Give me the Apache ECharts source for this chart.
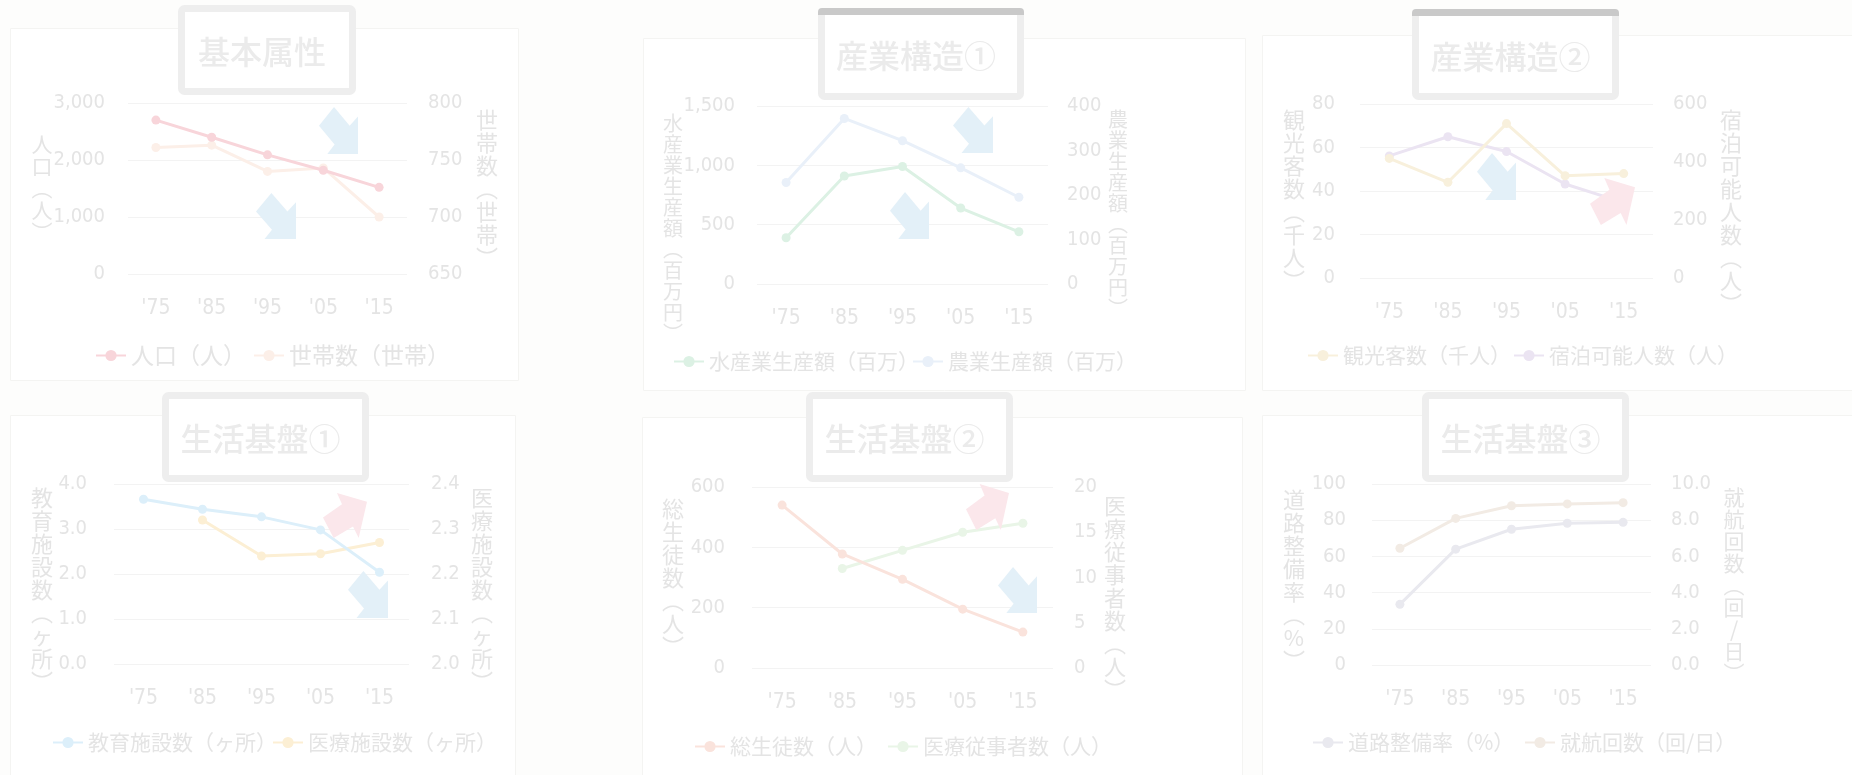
<!DOCTYPE html>
<html><head><meta charset="utf-8">
<script src="https://cdn.jsdelivr.net/npm/echarts@6/dist/echarts.min.js"></script>
<style>html,body{margin:0;padding:0;background:#fdfdfc;}#c{width:1852px;height:775px;}</style>
</head><body><div id="c"></div>
<script>
// ---------- data ----------
const categories = ["'75", "'85", "'95", "'05", "'15"];
const population = [2700, 2400, 2090, 1820, 1520];        // 人口（人）
const households = [761, 763, 740, 743, 700];              // 世帯数（世帯）
const fisheryOutput = [390, 910, 990, 640, 440];           // 水産業生産額（百万）
const agricultureOutput = [228, 372, 322, 261, 195];       // 農業生産額（百万）
const tourists = [55, 44, 71, 47, 48];                     // 観光客数（千人）
const lodgingCapacity = [421, 487, 436, 324, 260];         // 宿泊可能人数（人）
const schools = [3.66, 3.44, 3.27, 2.98, 2.04];            // 教育施設数（ヶ所）
const clinics = [null, 2.32, 2.24, 2.245, 2.27];           // 医療施設数（ヶ所）
const students = [540, 378, 294, 195, 119];                // 総生徒数（人）
const medicalStaff = [null, 11, 13, 15, 16];               // 医療従事者数（人）
const roadRate = [33.5, 64, 75, 78.3, 78.8];               // 道路整備率（%）
const ferryTrips = [6.45, 8.1, 8.8, 8.9, 8.97];            // 就航回数（回/日）

const panelTitles = ['基本属性', '産業構造①', '産業構造②', '生活基盤①', '生活基盤②', '生活基盤③'];
const leftNames = ['人口（人）', '水産業生産額（百万円）', '観光客数（千人）', '教育施設数（ヶ所）', '総生徒数（人）', '道路整備率（%）'];
const rightNames = ['世帯数（世帯）', '農業生産額（百万円）', '宿泊可能人数（人）', '医療施設数（ヶ所）', '医療従事者数（人）', '就航回数（回/日）'];
const seriesNamesL = ['人口（人）', '水産業生産額（百万）', '観光客数（千人）', '教育施設数（ヶ所）', '総生徒数（人）', '道路整備率（%）'];
const seriesNamesR = ['世帯数（世帯）', '農業生産額（百万）', '宿泊可能人数（人）', '医療施設数（ヶ所）', '医療従事者数（人）', '就航回数（回/日）'];
const seriesDataL = [population, fisheryOutput, tourists, schools, students, roadRate];
const seriesDataR = [households, agricultureOutput, lodgingCapacity, clinics, medicalStaff, ferryTrips];
const leftAxisRanges = [[0, 3000, 1000, 0], [0, 1500, 500, 0], [0, 80, 20, 0], [0, 4, 1, 1], [0, 600, 200, 0], [0, 100, 20, 0]];
const rightAxisRanges = [[650, 800, 50, 0], [0, 400, 100, 0], [0, 600, 200, 0], [2.0, 2.4, 0.1, 1], [0, 20, 5, 0], [0, 10, 2, 1]];

// ---------- layout & style ----------
const colorsL = ['#f8d5da', '#dcf1e4', '#f8f0dc', '#dceffa', '#fae3dc', '#e9e9ef'];
const colorsR = ['#fcefe8', '#e9f0f9', '#ebe4f2', '#fcefd4', '#e9f5e7', '#f2ebe4'];
const grids = [
  [128, 103, 279, 171], [757, 106, 291, 178], [1360, 104, 293, 174],
  [114, 484, 295, 180], [752, 487, 301, 181], [1372, 484, 279, 181]
];
const labelMarginL = [23, 22, 25, 27, 27, 26];
const labelMarginR = [21, 19, 20, 22, 21, 20];
const leftNamePos = [[42, 188, 21], [673, 228, 20], [1294, 200, 22], [42, 590, 22], [673, 578, 22], [1294, 580, 22]];
const rightNamePos = [[487, 189, 22], [1118, 214, 20], [1731, 212, 22], [482, 590, 22], [1115, 598, 22], [1734, 585, 21]];
const legendPos = [ // [xL, xR, y, fontSize]
  [95, 253, 357, 23], [673, 912, 364, 21], [1307, 1513, 358, 21],
  [52, 272, 745, 21], [694, 887, 749, 21], [1312, 1524, 745, 21]
];
const titleBoxes = [ // x0,y0,x1,y1,darkTop
  [178, 5, 356, 95, false], [818, 8, 1024, 100, true], [1412, 9, 1619, 100, true],
  [162, 392, 369, 482, false], [806, 392, 1013, 482, false], [1422, 392, 1629, 482, false]
];
const cards = [
  [10, 28, 508, 352], [643, 38, 602, 352], [1262, 35, 590, 355],
  [10, 415, 505, 360], [642, 417, 600, 358], [1262, 415, 590, 360]
];
const blueArrows = [[319, 107, 358, 154], [256, 193, 296, 239], [953, 107, 993, 153], [890, 192, 929, 239],
  [1477, 153, 1516, 200], [348, 571, 388, 618], [998, 567, 1037, 613]];
const pinkArrows = [[1590, 178, 1635, 225], [323, 493, 367, 538], [966, 484, 1009, 530]];

const FONT_NUM = '"Liberation Sans Narrow", "DejaVu Sans Condensed", "Noto Sans CJK JP", sans-serif';
const FONT_JP = '"Noto Sans CJK JP", sans-serif';
const TXT = '#e4e4e4';

function vertical(s) {
  return s.replace(/（/g, '︵').replace(/）/g, '︶').split('').join('\n');
}
function fmt(dec) {
  return function (v) {
    if (dec > 0) return (+v).toFixed(dec);
    return Math.round(v).toLocaleString('en-US');
  };
}

const option = {
  backgroundColor: '#fdfdfc',
  animation: false,
  grid: [], xAxis: [], yAxis: [], series: [], legend: [], graphic: []
};

const G = option.graphic;
cards.forEach(c => G.push({ type: 'rect', z: -10, shape: { x: c[0] + 0.5, y: c[1] + 0.5, width: c[2], height: c[3] },
  style: { fill: '#ffffff', stroke: '#f4f4f2', lineWidth: 1 } }));

for (let i = 0; i < 6; i++) {
  const g = grids[i];
  option.grid.push({ left: g[0], top: g[1], width: g[2], height: g[3], containLabel: false });
  option.xAxis.push({
    type: 'category', gridIndex: i, data: categories, boundaryGap: true,
    axisLine: { show: false }, axisTick: { show: false },
    axisLabel: { color: TXT, fontSize: 21, fontFamily: FONT_NUM, margin: 24 }
  });
  const L = leftAxisRanges[i], R = rightAxisRanges[i];
  option.yAxis.push({
    type: 'value', gridIndex: i, position: 'left', min: L[0], max: L[1], interval: L[2],
    axisLine: { show: false }, axisTick: { show: false },
    axisLabel: { color: TXT, fontSize: 20, fontFamily: FONT_NUM, margin: labelMarginL[i], formatter: fmt(L[3]) },
    splitLine: { show: true, lineStyle: { color: '#f3f3f3', width: 1 } }
  });
  option.yAxis.push({
    type: 'value', gridIndex: i, position: 'right', min: R[0], max: R[1], interval: R[2],
    axisLine: { show: false }, axisTick: { show: false },
    axisLabel: { color: TXT, fontSize: 20, fontFamily: FONT_NUM, margin: labelMarginR[i], formatter: fmt(R[3]) },
    splitLine: { show: false }
  });
  option.series.push({
    type: 'line', name: seriesNamesL[i], xAxisIndex: i, yAxisIndex: 2 * i, data: seriesDataL[i],
    symbol: 'circle', symbolSize: 9, color: colorsL[i], lineStyle: { width: 3, color: colorsL[i] },
    itemStyle: { color: colorsL[i] }, z: 3
  });
  option.series.push({
    type: 'line', name: seriesNamesR[i], xAxisIndex: i, yAxisIndex: 2 * i + 1, data: seriesDataR[i],
    symbol: 'circle', symbolSize: 9, color: colorsR[i], lineStyle: { width: 3, color: colorsR[i] },
    itemStyle: { color: colorsR[i] }, z: 2
  });
  const lp = legendPos[i];
  [[seriesNamesL[i], lp[0]], [seriesNamesR[i], lp[1]]].forEach(([nm, x]) => {
    const ts = { color: TXT, fontSize: lp[3], fontFamily: FONT_JP };
    option.legend.push({
      data: [{ name: nm, textStyle: ts }], left: x, top: lp[2] - 13, padding: 0, itemGap: 0,
      itemWidth: 30, itemHeight: 14, selectedMode: false, textStyle: ts
    });
  });
  // axis names (vertical)
  const ln = leftNamePos[i], rn = rightNamePos[i];
  G.push({ type: 'text', z: 5, x: ln[0], y: ln[1], style: { text: vertical(leftNames[i]), fill: TXT,
    font: ln[2] + 'px ' + FONT_JP, lineHeight: ln[2] + 1, align: 'center', verticalAlign: 'middle' } });
  G.push({ type: 'text', z: 5, x: rn[0], y: rn[1], style: { text: vertical(rightNames[i]), fill: TXT,
    font: rn[2] + 'px ' + FONT_JP, lineHeight: rn[2] + 1, align: 'center', verticalAlign: 'middle' } });
  // title box
  const tb = titleBoxes[i];
  G.push({ type: 'rect', z: 6, shape: { x: tb[0] + 3.5, y: tb[1] + 3.5, width: tb[2] - tb[0] - 7, height: tb[3] - tb[1] - 7, r: 3 },
    style: { fill: '#ffffff', stroke: '#eeeeee', lineWidth: 7 } });
  if (tb[4]) {
    G.push({ type: 'rect', z: 7, shape: { x: tb[0], y: tb[1], width: tb[2] - tb[0], height: 7, r: [4, 4, 0, 0] },
      style: { fill: '#c9c9c9' } });
  }
  G.push({ type: 'text', z: 8, x: (tb[0] + tb[2]) / 2 - 5, y: (tb[1] + tb[3]) / 2 + 2,
    style: { text: panelTitles[i], fill: '#ebebeb', font: '500 32px ' + FONT_JP, align: 'center', verticalAlign: 'middle' } });
}

// trend arrows (annotation shapes)
const blueShape = [[0.385, 0], [0.786, 0.4], [1, 0.2], [1, 1], [0.214, 1], [0.4, 0.8], [0, 0.4]];
const pinkShape = [[0, 0.547], [0.432, 0.248], [0.318, 0], [1, 0.197], [0.811, 1], [0.682, 0.745], [0.242, 1]];
function arrow(b, shape, fill) {
  const w = b[2] - b[0], h = b[3] - b[1];
  return { type: 'polygon', z: 20, shape: { points: shape.map(p => [b[0] + p[0] * w, b[1] + p[1] * h]) }, style: { fill } };
}
blueArrows.forEach(b => G.push(arrow(b, blueShape, '#e3f0f8')));
pinkArrows.forEach(b => G.push(arrow(b, pinkShape, '#fbe7eb')));

const chart = echarts.init(document.getElementById('c'), null, { renderer: 'canvas' });
chart.setOption(option);
</script></body></html>
